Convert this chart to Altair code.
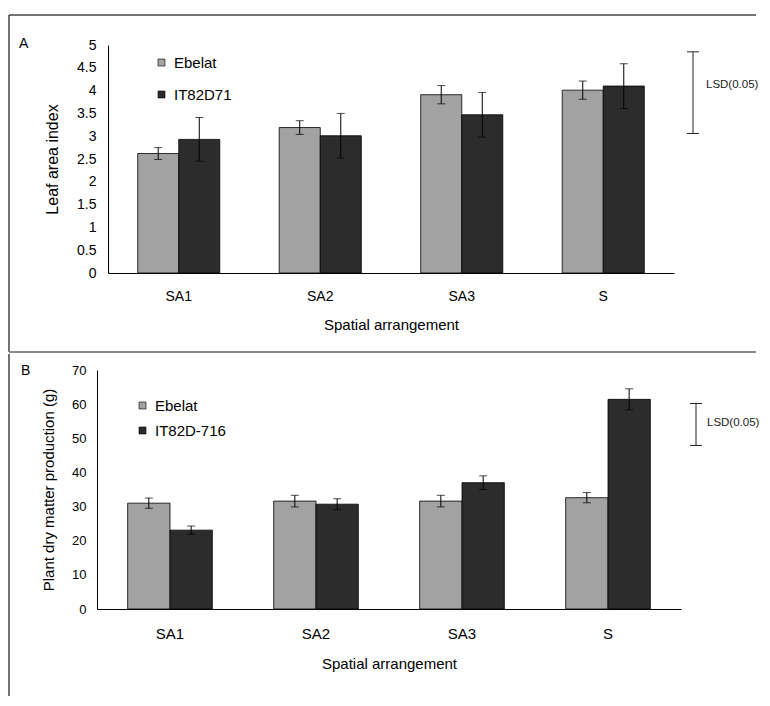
import altair as alt
import pandas as pd

categories = ["SA1", "SA2", "SA3", "S"]

# Panel A: leaf area index
series_A = ["Ebelat", "IT82D71"]
lai_ebelat = [2.62, 3.19, 3.91, 4.01]
lai_ebelat_err = [0.13, 0.15, 0.20, 0.20]
lai_it = [2.93, 3.01, 3.47, 4.10]
lai_it_err = [0.48, 0.49, 0.49, 0.49]
lsd_A = [3.06, 4.85]

# Panel B: plant dry matter production (g)
series_B = ["Ebelat", "IT82D-716"]
dm_ebelat = [31.0, 31.6, 31.6, 32.6]
dm_ebelat_err = [1.5, 1.7, 1.7, 1.5]
dm_it = [23.1, 30.7, 37.0, 61.4]
dm_it_err = [1.2, 1.6, 2.0, 3.1]
lsd_B = [47.9, 60.2]

yticks_A = [0, 0.5, 1, 1.5, 2, 2.5, 3, 3.5, 4, 4.5, 5]
yticks_B = [0, 10, 20, 30, 40, 50, 60, 70]

FONT = "Liberation Sans"
FILLS = ["#a2a2a2", "#2c2c2c"]


def make_df(series, vals1, err1, vals2, err2):
    rows = []
    for s, vals, errs in [(series[0], vals1, err1), (series[1], vals2, err2)]:
        for c, v, e in zip(categories, vals, errs):
            rows.append({"cat": c, "series": s, "value": v, "lo": v - e, "hi": v + e})
    return pd.DataFrame(rows)


def panel(df, series, ydom, yticks, ytitle, width, height, geo):
    xscale = alt.Scale(domain=categories, paddingInner=0.42, paddingOuter=0.21,
                       range=geo["xrange"])
    yscale = alt.Scale(domain=ydom, nice=False)
    xaxis = alt.Axis(title="Spatial arrangement", labelAngle=0, ticks=False, tickSize=0,
                     labelPadding=geo["xlp"], titlePadding=geo["xtp"],
                     labelFontSize=geo["xlfs"], titleFontSize=geo["xtfs"])
    yaxis = alt.Axis(title=ytitle, values=yticks, labelExpr="'' + datum.value",
                     labelOverlap=False, grid=False, ticks=False, tickSize=0,
                     offset=geo["yoff"], labelPadding=geo["ylp"], titlePadding=geo["ytp"],
                     labelFontSize=geo["ylfs"], titleFontSize=geo["ytfs"])

    def X():
        return alt.X("cat:N", sort=categories, scale=xscale, axis=xaxis)

    def XO():
        return alt.XOffset("series:N", sort=series,
                           scale=alt.Scale(domain=series, paddingInner=0, paddingOuter=0))

    def Y(field):
        return alt.Y(field, scale=yscale, axis=yaxis, title=ytitle)

    base = alt.Chart(df)
    bars = base.mark_bar(stroke="black", strokeWidth=0.8).encode(
        x=X(), xOffset=XO(), y=Y("value:Q"),
        color=alt.Color("series:N", sort=series,
                        scale=alt.Scale(domain=series, range=FILLS),
                        legend=alt.Legend(title=None, orient="none", legendX=geo["lx"],
                                          legendY=geo["ly"], symbolType="square",
                                          symbolSize=49, symbolStrokeColor="black",
                                          symbolStrokeWidth=0.6, labelFontSize=geo["lfs"],
                                          labelOffset=5, rowPadding=geo["lrp"], padding=0,
                                          labelColor="black")),
    )
    err_rule = base.mark_rule(color="black", strokeWidth=1).encode(
        x=X(), xOffset=XO(), y=Y("lo:Q"), y2="hi:Q")
    err_lo = base.mark_tick(color="black", size=8, thickness=1).encode(
        x=X(), xOffset=XO(), y=Y("lo:Q"))
    err_hi = base.mark_tick(color="black", size=8, thickness=1).encode(
        x=X(), xOffset=XO(), y=Y("hi:Q"))

    lsd_df = pd.DataFrame({"lsd_lo": [geo["lsd"][0]], "lsd_hi": [geo["lsd"][1]],
                           "lsd_mid": [geo["lsd_text_y"]], "label": ["LSD(0.05)"]})
    lb = alt.Chart(lsd_df)
    lsd_rule = lb.mark_rule(color="#222", strokeWidth=1).encode(
        x=alt.value(geo["lsdx"]), y=Y("lsd_lo:Q"), y2="lsd_hi:Q")
    lsd_cap1 = lb.mark_rule(color="#222", strokeWidth=1).encode(
        x=alt.value(geo["lsdx"] - 6), x2=alt.value(geo["lsdx"] + 6), y=Y("lsd_lo:Q"))
    lsd_cap2 = lb.mark_rule(color="#222", strokeWidth=1).encode(
        x=alt.value(geo["lsdx"] - 6), x2=alt.value(geo["lsdx"] + 6), y=Y("lsd_hi:Q"))
    lsd_txt = lb.mark_text(align="left", baseline="middle", fontSize=11.5, color="#222").encode(
        x=alt.value(geo["lsdx"] + geo["lsd_tdx"]), y=Y("lsd_mid:Q"), text="label:N")

    letter = alt.Chart(pd.DataFrame({"t": [geo["letter"]]})).mark_text(
        align="left", baseline="middle", fontSize=14, color="black").encode(
        x=alt.value(geo["letter_x"]), y=alt.value(geo["letter_y"]), text="t:N")

    frames = []
    for f in geo["frames"]:
        frames.append(alt.Chart(pd.DataFrame({"k": [0]})).mark_rule(
            color=f["color"], strokeWidth=f["w"]).encode(
            x=alt.value(f["x"]), x2=alt.value(f["x2"]),
            y=alt.value(f["y"]), y2=alt.value(f["y2"])))

    return alt.layer(bars, err_rule, err_lo, err_hi, lsd_rule, lsd_cap1, lsd_cap2, lsd_txt,
                     letter, *frames).properties(width=width, height=height)


dfA = make_df(series_A, lai_ebelat, lai_ebelat_err, lai_it, lai_it_err)
dfB = make_df(series_B, dm_ebelat, dm_ebelat_err, dm_it, dm_it_err)

# Both panels share the same origin (page x=107); panel B's axes are pulled 11px left.
geoA = dict(xrange=[0, 566], yoff=0,
            xlp=16, xtp=14, xlfs=14, xtfs=15, ylp=12, ytp=16, ylfs=14, ytfs=16,
            lx=46, ly=10, lfs=15, lrp=16, lsd=lsd_A, lsd_text_y=4.13, lsdx=585, lsd_tdx=13,
            letter="A", letter_x=-89, letter_y=-1,
            frames=[dict(x=-99, x2=648, y=-30, y2=-30, color="#444", w=1.5),
                    dict(x=-99, x2=-99, y=-30, y2=307, color="#444", w=1.5),
                    dict(x=-99, x2=648, y=307, y2=307, color="#888", w=2)])
geoB = dict(xrange=[-11, 573], yoff=11,
            xlp=17, xtp=15, xlfs=15, xtfs=15, ylp=11, ytp=15, ylfs=13, ytfs=15,
            lx=27, ly=28, lfs=15, lrp=9, lsd=lsd_B, lsd_text_y=54.5, lsdx=588, lsd_tdx=11,
            letter="B", letter_x=-87, letter_y=1,
            frames=[dict(x=-99, x2=-99, y=-16, y2=326, color="#444", w=1.5)])

panelA = panel(dfA, series_A, [0, 5], yticks_A, "Leaf area index", 566, 228, geoA)
panelB = panel(dfB, series_B, [0, 70], yticks_B, "Plant dry matter production (g)", 573, 239, geoB)

chart = alt.concat(panelA, panelB, columns=1, spacing=0, bounds="full").resolve_scale(
    color="independent", x="independent", y="independent", xOffset="independent"
).properties(
    padding={"left": 0, "top": 6, "right": 0, "bottom": 0}
).configure(
    font=FONT
).configure_view(
    stroke=None
).configure_axis(
    domainColor="black", domainWidth=1, labelColor="black", titleColor="black",
    labelFont=FONT, titleFont=FONT, titleFontWeight="normal"
)

chart.save("out.html", embed_options={"renderer": "svg", "actions": False})
